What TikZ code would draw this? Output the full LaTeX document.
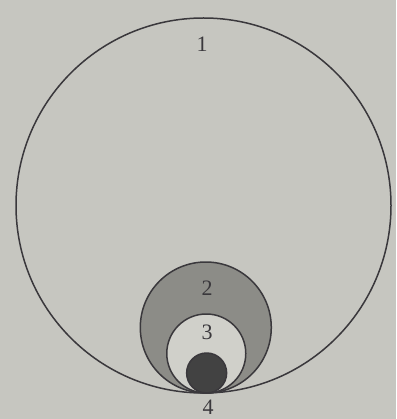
\documentclass[tikz,border=0pt]{standalone}
\usepackage{fontspec}
\setmainfont{Liberation Serif}
\usetikzlibrary{calc}
\definecolor{paper}{RGB}{198,198,192}
\definecolor{ink}{RGB}{58,56,60}
\definecolor{midgray}{RGB}{140,140,135}
\definecolor{lightgray}{RGB}{208,208,202}
\definecolor{darkfill}{RGB}{66,66,66}
\begin{document}
\begin{tikzpicture}[x=1pt,y=-1pt,
  ring/.style={draw=ink,line width=1.5pt},
  lbl/.style={font=\fontsize{22}{26}\selectfont,text=ink,inner sep=0pt}]
\fill[paper] (0,0) rectangle (396,419);
\useasboundingbox (0,0) rectangle (396,419);
\coordinate (T) at (207,393);
\coordinate (C1) at (203.5,205.5);
\draw[ring] (C1) circle[radius=187.5];
\draw[ring,fill=midgray] ($(T)!65.5/187.5!(C1)$) circle[radius=65.5];
\draw[ring,fill=lightgray] ($(T)!39.5/187.5!(C1)$) circle[radius=39.5];
\draw[ring,fill=darkfill] ($(T)!20/187.5!(C1)$) circle[radius=20];
\node[lbl] (l1) at (202,44) {1};
\node[lbl] (l2) at (207,288) {2};
\node[lbl] (l3) at (207,332) {3};
\node[lbl] (l4) at (208,407) {4};
\end{tikzpicture}
\end{document}
